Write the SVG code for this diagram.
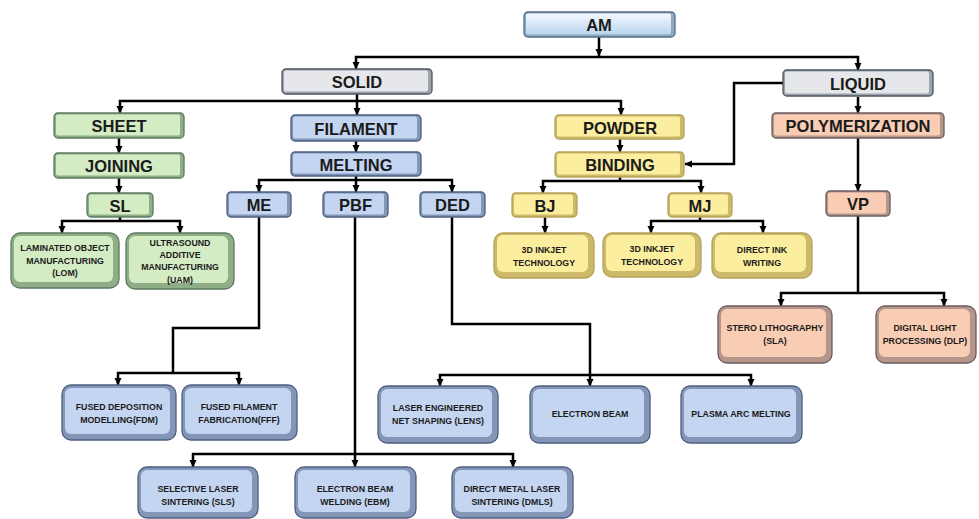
<svg xmlns="http://www.w3.org/2000/svg" width="979" height="519" viewBox="0 0 979 519">
<defs>
<linearGradient id="gAM" x1="0" y1="0" x2="0" y2="1"><stop offset="0" stop-color="#f4f9fe"/><stop offset="1" stop-color="#b9d5ef"/></linearGradient>
<marker id="ah" markerUnits="userSpaceOnUse" markerWidth="8" markerHeight="8" refX="7" refY="4" orient="auto"><path d="M0,0.5 L7.5,4 L0,7.5 z" fill="#000"/></marker>
<style>
.o{stroke-width:1.3}
.bl .o{fill:#8396b8;stroke:#4e5f80}
.bl .i{fill:#c3d5f1}
.gr .o{fill:#8fae88;stroke:#5b7a60}
.gr .i{fill:#d4ecc3}
.ye .o{fill:#cdb96a;stroke:#b5a25a}
.ye .i{fill:#fbee9f}
.or .o{fill:#b5968a;stroke:#6d5c60}
.or .i{fill:#f8cdb3}
.gy .o{fill:#9ea3ab;stroke:#4d5563}
.gy .i{fill:#e6e7ea}
.am .o{fill:#8fa7c0;stroke:#56708a}
.am .i{fill:url(#gAM)}
text{font-family:"Liberation Sans",Arial,sans-serif;font-weight:bold;fill:#1b1b1b;text-anchor:middle;dominant-baseline:central}
.h text{font-size:16.5px}
.l text{font-size:8.8px}
#connectors path{fill:none;stroke:#000;stroke-width:2.5;marker-end:url(#ah)}
#connectors path.n{marker-end:none}
</style>
</defs>
<rect width="979" height="519" fill="#fff"/>

<g id="connectors">
<path d="M599,37 V56"/>
<path d="M599,57 H356 V69"/>
<path d="M599,57 H858 V70"/>
<path class="n" d="M357,94 V101"/>
<path d="M357,101 H120 V113"/>
<path d="M357,101 H621 V115"/>
<path d="M357,101 V115"/>
<path d="M119,138 V153"/>
<path d="M119,178 V193"/>
<path class="n" d="M120,217 V221"/>
<path d="M120,221 H62 V233"/>
<path d="M120,221 H180 V233"/>
<path d="M356,141 V152"/>
<path class="n" d="M356,176 V180"/>
<path d="M356,180 H259 V192"/>
<path d="M356,180 H452 V192"/>
<path d="M356,180 V192"/>
<path d="M620,139 V152"/>
<path class="n" d="M620,177 V181"/>
<path d="M620,181 H543 V193"/>
<path d="M620,181 H701 V193"/>
<path d="M858,97 V113"/>
<path d="M783,83 H734 V164 H685"/>
<path d="M858,138 V191"/>
<path class="n" d="M858,216 V293"/>
<path d="M858,293 H781 V306"/>
<path d="M858,293 H944 V306"/>
<path d="M545,217 V233"/>
<path class="n" d="M700,217 V221"/>
<path d="M700,221 H651 V233"/>
<path d="M700,221 H763 V233"/>
<path class="n" d="M259,217 V328 H173 V373"/>
<path d="M173,373 H118 V385"/>
<path d="M173,373 H239 V385"/>
<path class="n" d="M355,217 V454"/>
<path d="M355,454 H193 V467"/>
<path d="M355,454 H513 V467"/>
<path d="M355,454 V467"/>
<path class="n" d="M452,217 V324 H590 V375"/>
<path d="M590,375 H440 V386"/>
<path d="M590,375 H751 V386"/>
<path d="M590,375 V386"/>
</g>

<g id="am" class="h am"><rect class="o" x="524" y="12" width="151" height="25" rx="4"/><rect class="i" x="526" y="13.5" width="145" height="21" rx="2"/><text x="599" y="25">AM</text></g>
<g id="solid" class="h gy"><rect class="o" x="282" y="69" width="150" height="25" rx="4"/><rect class="i" x="284" y="70.5" width="144" height="21" rx="2"/><text x="357" y="82">SOLID</text></g>
<g id="liquid" class="h gy"><rect class="o" x="783" y="70" width="150" height="26" rx="4"/><rect class="i" x="785" y="71.5" width="144" height="22" rx="2"/><text x="858" y="83.5">LIQUID</text></g>
<g id="sheet" class="h gr"><rect class="o" x="54" y="113" width="130" height="25" rx="4"/><rect class="i" x="56" y="114.5" width="124" height="21" rx="2"/><text x="119" y="126">SHEET</text></g>
<g id="joining" class="h gr"><rect class="o" x="54" y="153" width="130" height="25" rx="4"/><rect class="i" x="56" y="154.5" width="124" height="21" rx="2"/><text x="119" y="166">JOINING</text></g>
<g id="sl" class="h gr"><rect class="o" x="87" y="193" width="66" height="24" rx="4"/><rect class="i" x="89" y="194.5" width="60" height="20" rx="2"/><text x="120" y="205.5">SL</text></g>
<g id="filament" class="h bl"><rect class="o" x="291" y="115" width="130" height="26" rx="4"/><rect class="i" x="293" y="116.5" width="124" height="22" rx="2"/><text x="356" y="128.5">FILAMENT</text></g>
<g id="melting" class="h bl"><rect class="o" x="291" y="152" width="130" height="24" rx="4"/><rect class="i" x="293" y="153.5" width="124" height="20" rx="2"/><text x="356" y="164.5">MELTING</text></g>
<g id="me" class="h bl"><rect class="o" x="227" y="192" width="64" height="25" rx="4"/><rect class="i" x="229" y="193.5" width="58" height="21" rx="2"/><text x="259" y="205">ME</text></g>
<g id="pbf" class="h bl"><rect class="o" x="323" y="192" width="65" height="25" rx="4"/><rect class="i" x="325" y="193.5" width="59" height="21" rx="2"/><text x="355.5" y="205">PBF</text></g>
<g id="ded" class="h bl"><rect class="o" x="420" y="192" width="65" height="25" rx="4"/><rect class="i" x="422" y="193.5" width="59" height="21" rx="2"/><text x="452.5" y="205">DED</text></g>
<g id="powder" class="h ye"><rect class="o" x="555" y="115" width="129" height="24" rx="4"/><rect class="i" x="557" y="116.5" width="123" height="20" rx="2"/><text x="620" y="127.5">POWDER</text></g>
<g id="binding" class="h ye"><rect class="o" x="555" y="152" width="129" height="25" rx="4"/><rect class="i" x="557" y="153.5" width="123" height="21" rx="2"/><text x="620" y="165">BINDING</text></g>
<g id="bj" class="h ye"><rect class="o" x="512" y="193" width="65" height="24" rx="4"/><rect class="i" x="514" y="194.5" width="59" height="20" rx="2"/><text x="545" y="205.5">BJ</text></g>
<g id="mj" class="h ye"><rect class="o" x="668" y="193" width="64" height="24" rx="4"/><rect class="i" x="670" y="194.5" width="58" height="20" rx="2"/><text x="700" y="205.5">MJ</text></g>
<g id="polymerization" class="h or"><rect class="o" x="772" y="113" width="172" height="25" rx="4"/><rect class="i" x="774" y="114.5" width="166" height="21" rx="2"/><text x="858" y="126">POLYMERIZATION</text></g>
<g id="vp" class="h or"><rect class="o" x="826" y="191" width="64" height="25" rx="4"/><rect class="i" x="828" y="192.5" width="58" height="21" rx="2"/><text x="858" y="204">VP</text></g>

<g id="lom" class="l gr"><rect class="o" x="11" y="233" width="108" height="55" rx="9"/><rect class="i" x="14" y="236" width="99" height="46" rx="6"/><text x="65" y="248">LAMINATED OBJECT</text><text x="65" y="260.5">MANUFACTURING</text><text x="65" y="273">(LOM)</text></g>
<g id="uam" class="l gr"><rect class="o" x="126" y="233" width="108" height="56" rx="9"/><rect class="i" x="129" y="236" width="99" height="47" rx="6"/><text x="180" y="243">ULTRASOUND</text><text x="180" y="255">ADDITIVE</text><text x="180" y="267">MANUFACTURING</text><text x="180" y="280">(UAM)</text></g>
<g id="inkjet-bj" class="l ye"><rect class="o" x="494" y="233" width="100" height="45" rx="9"/><rect class="i" x="497" y="235" width="91" height="37" rx="6"/><text x="544" y="250">3D INKJET</text><text x="544" y="263">TECHNOLOGY</text></g>
<g id="inkjet-mj" class="l ye"><rect class="o" x="603" y="233" width="98" height="44" rx="9"/><rect class="i" x="606" y="235" width="89" height="36" rx="6"/><text x="652" y="249">3D INKJET</text><text x="652" y="262">TECHNOLOGY</text></g>
<g id="diw" class="l ye"><rect class="o" x="712" y="233" width="100" height="45" rx="9"/><rect class="i" x="715" y="235" width="91" height="37" rx="6"/><text x="762" y="250">DIRECT INK</text><text x="762" y="263">WRITING</text></g>
<g id="sla" class="l or"><rect class="o" x="718" y="306" width="114" height="57" rx="9"/><rect class="i" x="721" y="309" width="105" height="48" rx="6"/><text x="775" y="328">STERO LITHOGRAPHY</text><text x="775" y="341">(SLA)</text></g>
<g id="dlp" class="l or"><rect class="o" x="876" y="306" width="100" height="57" rx="9"/><rect class="i" x="879" y="309" width="91" height="48" rx="6"/><text x="925" y="328">DIGITAL LIGHT</text><text x="925" y="341">PROCESSING (DLP)</text></g>
<g id="fdm" class="l bl"><rect class="o" x="62" y="385" width="114" height="55" rx="9"/><rect class="i" x="65" y="388" width="105" height="46" rx="6"/><text x="119" y="407">FUSED DEPOSITION</text><text x="119" y="420">MODELLING(FDM)</text></g>
<g id="fff" class="l bl"><rect class="o" x="182" y="385" width="115" height="55" rx="9"/><rect class="i" x="185" y="388" width="106" height="46" rx="6"/><text x="239" y="407">FUSED FILAMENT</text><text x="239" y="420">FABRICATION(FFF)</text></g>
<g id="lens" class="l bl"><rect class="o" x="378" y="386" width="120" height="57" rx="9"/><rect class="i" x="381" y="389" width="111" height="48" rx="6"/><text x="438" y="408">LASER ENGINEERED</text><text x="438" y="421">NET SHAPING (LENS)</text></g>
<g id="eb" class="l bl"><rect class="o" x="530" y="386" width="120" height="57" rx="9"/><rect class="i" x="533" y="389" width="111" height="48" rx="6"/><text x="590" y="414">ELECTRON BEAM</text></g>
<g id="pam" class="l bl"><rect class="o" x="681" y="386" width="121" height="57" rx="9"/><rect class="i" x="684" y="389" width="112" height="48" rx="6"/><text x="741" y="414">PLASMA ARC MELTING</text></g>
<g id="sls" class="l bl"><rect class="o" x="138" y="467" width="120" height="51" rx="9"/><rect class="i" x="141" y="470" width="111" height="42" rx="6"/><text x="198" y="489">SELECTIVE LASER</text><text x="198" y="502">SINTERING (SLS)</text></g>
<g id="ebm" class="l bl"><rect class="o" x="295" y="467" width="121" height="51" rx="9"/><rect class="i" x="298" y="470" width="112" height="42" rx="6"/><text x="355" y="489">ELECTRON BEAM</text><text x="355" y="502">WELDING (EBM)</text></g>
<g id="dmls" class="l bl"><rect class="o" x="452" y="467" width="121" height="51" rx="9"/><rect class="i" x="455" y="470" width="112" height="42" rx="6"/><text x="512" y="489">DIRECT METAL LASER</text><text x="512" y="502">SINTERING (DMLS)</text></g>
</svg>
